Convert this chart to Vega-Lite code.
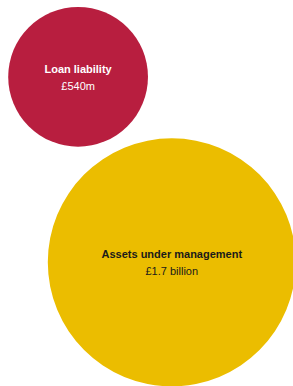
{
  "$schema": "https://vega.github.io/schema/vega-lite/v6.json",
  "width": 293,
  "height": 386,
  "autosize": {"type": "fit", "contains": "padding"},
  "padding": 0,
  "background": "white",
  "config": {"view": {"stroke": null}},
  "data": {
    "values": [
      {"name": "Loan liability", "label": "£540m", "value": 540, "cx": 80, "cy": 77, "group": "loan"},
      {"name": "Assets under management", "label": "£1.7 billion", "value": 1700, "cx": 176, "cy": 263, "group": "aum"}
    ]
  },
  "encoding": {
    "x": {"field": "cx", "type": "quantitative", "scale": {"domain": [0, 293], "nice": false, "zero": false}, "axis": null},
    "y": {"field": "cy", "type": "quantitative", "scale": {"domain": [386, 0], "nice": false, "zero": false}, "axis": null}
  },
  "layer": [
    {
      "mark": {"type": "point", "filled": true, "opacity": 1, "shape": "circle", "clip": false},
      "encoding": {
        "size": {"field": "value", "type": "quantitative", "scale": {"domain": [0, 1700], "range": [0, 61500], "zero": true}, "legend": null},
        "color": {"field": "group", "type": "nominal", "scale": {"domain": ["loan", "aum"], "range": ["#B81E3F", "#EBBD00"]}, "legend": null}
      }
    },
    {
      "mark": {"type": "text", "font": "Liberation Sans", "fontSize": 11, "fontWeight": "bold", "dy": -7, "baseline": "middle"},
      "encoding": {
        "text": {"field": "name"},
        "color": {"field": "group", "type": "nominal", "scale": {"domain": ["loan", "aum"], "range": ["#FFFFFF", "#1A1A1A"]}, "legend": null}
      }
    },
    {
      "mark": {"type": "text", "font": "Liberation Sans", "fontSize": 11, "dy": 10, "baseline": "middle"},
      "encoding": {
        "text": {"field": "label"},
        "color": {"field": "group", "type": "nominal", "scale": {"domain": ["loan", "aum"], "range": ["#FFFFFF", "#1A1A1A"]}, "legend": null}
      }
    }
  ],
  "resolve": {"scale": {"color": "independent"}}
}
